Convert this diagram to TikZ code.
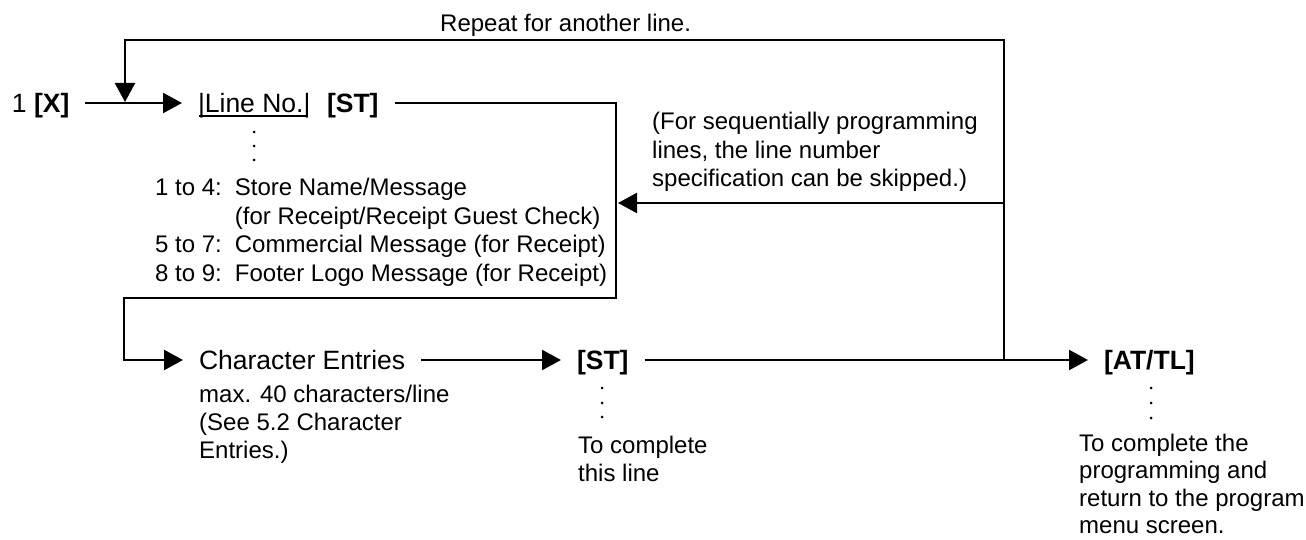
\documentclass[tikz,border=0pt]{standalone}
\usepackage{fontspec}
\setmainfont{Liberation Sans}
\usetikzlibrary{arrows.meta,calc}
\begin{document}
\begin{tikzpicture}[x=1pt,y=-1pt,
  keynode/.style={inner sep=0pt, outer xsep=16pt, outer ysep=0pt, text height=19pt, text depth=0pt, anchor=west, font=\fontsize{26.5}{30}\selectfont},
  annot/.style={inner sep=0pt, anchor=base west, font=\fontsize{24}{28.4}\selectfont},
  conn/.style={line width=2.3pt},
  arr/.style={conn, -{Triangle[length=19pt,width=20pt]}},
  uline/.style={line width=1.1pt},
  dotmark/.style={fill=black}
]
\useasboundingbox (0,0) rectangle (1306,540);

% main row nodes
\node[keynode] (x)   at (-4,103)  {1 \textbf{[X]}};
\node[keynode] (ln)  at (182,103) {|Line No.|};
\node[keynode] (st1) at (311,103) {\textbf{[ST]}};
\node[keynode] (ce)  at (183,360) {Character Entries};
\node[keynode] (st2) at (561,360) {\textbf{[ST]}};
\node[keynode] (at)  at (1088,360) {\textbf{[AT/TL]}};

% underline of Line No.
\draw[uline] ($(ln.west)+(17,13)$) -- ($(ln.east)+(-19,13)$);

% annotation texts
\node[annot] (rep) at (440,32) {Repeat for another line.};
\node[annot] (seq) at (652,130) {\begin{tabular}[t]{@{}l@{}}(For sequentially programming\\lines, the line number\\specification can be skipped.)\end{tabular}};
\node[annot] (lst) at (155,196) {\begin{tabular}[t]{@{}l@{\hspace{13pt}}l@{}}1 to 4: & Store Name/Message\\ & (for Receipt/Receipt Guest Check)\\5 to 7: & Commercial Message (for Receipt)\\8 to 9: & Footer Logo Message (for Receipt)\end{tabular}};
\node[annot] (cea) at (199,402) {\begin{tabular}[t]{@{}l@{}}max. 40 characters/line\\(See 5.2 Character\\Entries.)\end{tabular}};
\node[annot] (sta) at (578,453) {\begin{tabular}[t]{@{}l@{}}To complete\\this line\end{tabular}};
\node[annot, font=\fontsize{24}{27.6}\selectfont] (ata) at (1079,451) {\begin{tabular}[t]{@{}l@{}}To complete the\\programming and\\return to the program\\menu screen.\end{tabular}};

% vertical dots
\foreach \yy in {132,146,160} \fill[dotmark] (254,\yy) circle (1.5);
\foreach \yy in {388,403,417} \fill[dotmark] (602,\yy) circle (1.5);
\foreach \yy in {388,403,418} \fill[dotmark] (1151,\yy) circle (1.5);

% coordinates for connector routes
\coordinate (cBR) at (616,298);
\coordinate (cBL) at (124,298);
\coordinate (jn)  at (1004,360);
\coordinate (jtop) at (1004,40);
\coordinate (ltop) at (125,40);
\coordinate (lmid) at (125,102);
\coordinate (jr)  at (1004,203);
\coordinate (boxin) at (618,203);

% connectors
\draw[arr] (x.east) -- (ln.west);
\draw[arr] (st1.east) -| (cBR) -- (cBL) |- (ce.west);
\draw[arr] (ce.east) -- (st2.west);
\draw[arr] (st2.east) -- (at.west);
\draw[arr] (jn) -- (jtop) -- (ltop) -- (lmid);
\draw[arr] (jr) -- (boxin);
\end{tikzpicture}
\end{document}
